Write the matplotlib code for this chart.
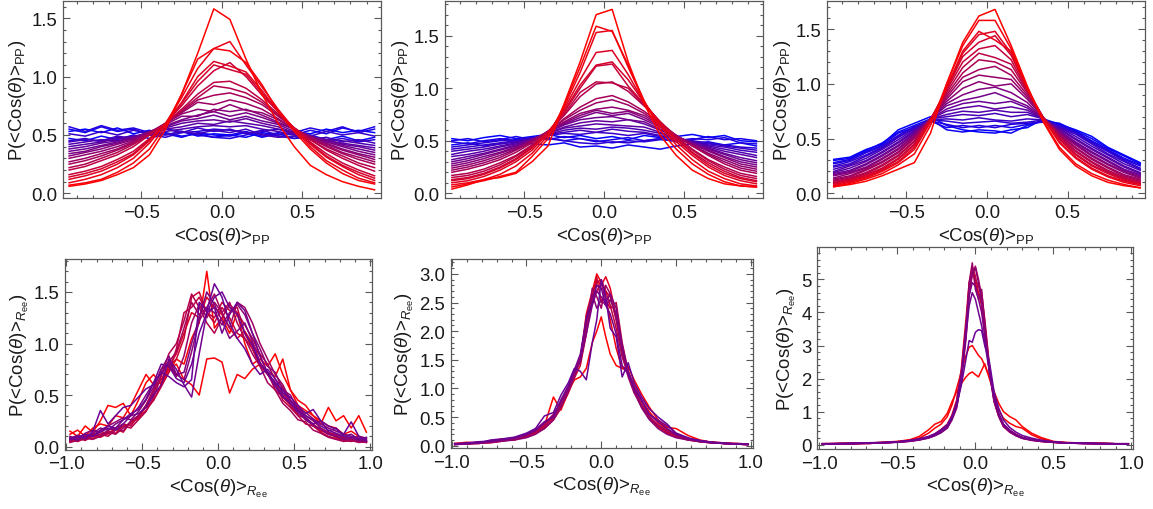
import matplotlib
matplotlib.use('Agg')
import matplotlib.pyplot as plt
from matplotlib.ticker import MultipleLocator

plt.rcParams['font.family'] = ['Liberation Sans', 'DejaVu Sans']
plt.rcParams['mathtext.fontset'] = 'custom'
plt.rcParams['mathtext.rm'] = 'Liberation Sans'
plt.rcParams['mathtext.it'] = 'Liberation Sans:italic'
plt.rcParams['axes.unicode_minus'] = True

# ---- top row: P(<Cos(theta)>_PP), 20 bins, ordered blue (flat) -> red (peaked)
x_top = [-0.95, -0.85, -0.75, -0.65, -0.55, -0.45, -0.35, -0.25, -0.15, -0.05,
         0.05, 0.15, 0.25, 0.35, 0.45, 0.55, 0.65, 0.75, 0.85, 0.95]

tl_curves = [
  [0.53, 0.55, 0.52, 0.56, 0.51, 0.54, 0.50, 0.53, 0.49, 0.51, 0.50, 0.48, 0.52, 0.50, 0.53, 0.51, 0.55, 0.52, 0.54, 0.52],
  [0.47, 0.45, 0.49, 0.46, 0.50, 0.47, 0.51, 0.48, 0.52, 0.50, 0.49, 0.52, 0.48, 0.51, 0.47, 0.50, 0.46, 0.49, 0.45, 0.48],
  [0.55, 0.52, 0.57, 0.53, 0.55, 0.50, 0.52, 0.49, 0.51, 0.48, 0.50, 0.53, 0.49, 0.52, 0.50, 0.54, 0.51, 0.56, 0.53, 0.57],
  [0.57, 0.53, 0.58, 0.54, 0.56, 0.52, 0.55, 0.53, 0.50, 0.48, 0.47, 0.50, 0.53, 0.55, 0.52, 0.56, 0.53, 0.57, 0.52, 0.55],
  [0.45, 0.47, 0.44, 0.48, 0.46, 0.50, 0.48, 0.52, 0.53, 0.55, 0.54, 0.52, 0.51, 0.49, 0.47, 0.48, 0.45, 0.47, 0.44, 0.46],
  [0.51, 0.49, 0.53, 0.50, 0.54, 0.51, 0.55, 0.52, 0.56, 0.53, 0.55, 0.51, 0.54, 0.50, 0.52, 0.49, 0.53, 0.50, 0.52, 0.49],
  [0.44, 0.46, 0.45, 0.49, 0.47, 0.51, 0.50, 0.53, 0.51, 0.54, 0.52, 0.55, 0.50, 0.48, 0.49, 0.46, 0.48, 0.44, 0.46, 0.43],
  [0.42, 0.44, 0.46, 0.45, 0.48, 0.50, 0.53, 0.55, 0.57, 0.58, 0.57, 0.58, 0.55, 0.53, 0.50, 0.48, 0.46, 0.45, 0.43, 0.41],
  [0.40, 0.42, 0.44, 0.47, 0.49, 0.51, 0.55, 0.57, 0.60, 0.59, 0.62, 0.60, 0.58, 0.55, 0.51, 0.49, 0.45, 0.43, 0.41, 0.39],
  [0.38, 0.40, 0.43, 0.45, 0.48, 0.52, 0.56, 0.60, 0.62, 0.63, 0.61, 0.64, 0.60, 0.57, 0.52, 0.49, 0.46, 0.42, 0.40, 0.37],
  [0.36, 0.38, 0.41, 0.44, 0.48, 0.53, 0.57, 0.62, 0.64, 0.67, 0.63, 0.66, 0.62, 0.59, 0.53, 0.48, 0.45, 0.41, 0.38, 0.35],
  [0.34, 0.36, 0.40, 0.43, 0.47, 0.53, 0.58, 0.63, 0.67, 0.70, 0.66, 0.69, 0.65, 0.60, 0.55, 0.49, 0.44, 0.40, 0.36, 0.33],
  [0.32, 0.35, 0.38, 0.42, 0.46, 0.52, 0.59, 0.66, 0.66, 0.72, 0.70, 0.72, 0.67, 0.61, 0.55, 0.49, 0.43, 0.38, 0.34, 0.31],
  [0.30, 0.33, 0.36, 0.40, 0.45, 0.52, 0.60, 0.68, 0.72, 0.70, 0.76, 0.71, 0.69, 0.63, 0.55, 0.48, 0.42, 0.37, 0.33, 0.29],
  [0.27, 0.30, 0.34, 0.38, 0.44, 0.52, 0.60, 0.69, 0.78, 0.76, 0.80, 0.77, 0.72, 0.64, 0.55, 0.47, 0.41, 0.35, 0.31, 0.27],
  [0.25, 0.28, 0.32, 0.37, 0.43, 0.51, 0.60, 0.70, 0.80, 0.84, 0.86, 0.82, 0.76, 0.66, 0.56, 0.47, 0.40, 0.34, 0.29, 0.25],
  [0.22, 0.25, 0.30, 0.35, 0.42, 0.50, 0.60, 0.71, 0.82, 0.92, 0.90, 0.86, 0.78, 0.67, 0.56, 0.46, 0.38, 0.32, 0.26, 0.22],
  [0.20, 0.23, 0.28, 0.33, 0.40, 0.50, 0.60, 0.72, 0.85, 0.95, 0.96, 0.90, 0.80, 0.68, 0.56, 0.46, 0.37, 0.30, 0.24, 0.19],
  [0.16, 0.19, 0.23, 0.29, 0.36, 0.47, 0.60, 0.75, 0.92, 1.05, 1.12, 1.00, 0.84, 0.70, 0.56, 0.44, 0.34, 0.26, 0.20, 0.15],
  [0.14, 0.17, 0.21, 0.27, 0.34, 0.46, 0.60, 0.77, 0.96, 1.10, 1.06, 1.02, 0.86, 0.70, 0.55, 0.43, 0.32, 0.24, 0.18, 0.13],
  [0.12, 0.15, 0.19, 0.25, 0.33, 0.45, 0.60, 0.78, 1.00, 1.13, 1.09, 1.04, 0.88, 0.70, 0.55, 0.42, 0.31, 0.23, 0.16, 0.11],
  [0.09, 0.12, 0.16, 0.22, 0.30, 0.43, 0.60, 0.82, 1.07, 1.24, 1.30, 1.10, 0.91, 0.72, 0.55, 0.40, 0.28, 0.20, 0.13, 0.09],
  [0.07, 0.09, 0.12, 0.18, 0.26, 0.38, 0.58, 0.85, 1.15, 1.24, 1.22, 1.12, 0.93, 0.70, 0.53, 0.38, 0.26, 0.17, 0.11, 0.08],
  [0.06, 0.08, 0.11, 0.16, 0.22, 0.33, 0.55, 0.85, 1.20, 1.58, 1.49, 1.15, 0.85, 0.60, 0.40, 0.24, 0.16, 0.10, 0.06, 0.03],
]

tm_curves = [
  [0.52, 0.50, 0.53, 0.55, 0.52, 0.54, 0.56, 0.53, 0.55, 0.52, 0.54, 0.51, 0.55, 0.53, 0.54, 0.56, 0.53, 0.55, 0.50, 0.49],
  [0.46, 0.48, 0.45, 0.47, 0.49, 0.47, 0.46, 0.48, 0.44, 0.45, 0.43, 0.46, 0.44, 0.42, 0.45, 0.47, 0.49, 0.46, 0.48, 0.45],
  [0.50, 0.52, 0.49, 0.51, 0.54, 0.51, 0.53, 0.50, 0.52, 0.49, 0.51, 0.53, 0.50, 0.52, 0.49, 0.51, 0.54, 0.51, 0.52, 0.50],
  [0.49, 0.47, 0.50, 0.52, 0.50, 0.53, 0.51, 0.54, 0.52, 0.50, 0.48, 0.50, 0.49, 0.51, 0.50, 0.52, 0.51, 0.53, 0.48, 0.47],
  [0.44, 0.46, 0.48, 0.50, 0.51, 0.53, 0.52, 0.50, 0.48, 0.47, 0.49, 0.48, 0.50, 0.52, 0.51, 0.49, 0.47, 0.46, 0.44, 0.43],
  [0.42, 0.44, 0.46, 0.48, 0.50, 0.52, 0.55, 0.57, 0.56, 0.58, 0.57, 0.55, 0.57, 0.54, 0.52, 0.50, 0.48, 0.45, 0.43, 0.41],
  [0.40, 0.42, 0.44, 0.47, 0.49, 0.52, 0.56, 0.58, 0.60, 0.58, 0.61, 0.59, 0.58, 0.55, 0.52, 0.49, 0.46, 0.44, 0.41, 0.39],
  [0.37, 0.40, 0.42, 0.45, 0.48, 0.52, 0.56, 0.60, 0.62, 0.61, 0.63, 0.62, 0.60, 0.57, 0.52, 0.49, 0.45, 0.42, 0.39, 0.36],
  [0.35, 0.37, 0.40, 0.44, 0.47, 0.52, 0.57, 0.62, 0.64, 0.66, 0.65, 0.64, 0.63, 0.58, 0.53, 0.49, 0.44, 0.40, 0.37, 0.34],
  [0.32, 0.35, 0.38, 0.42, 0.46, 0.51, 0.57, 0.63, 0.67, 0.69, 0.68, 0.70, 0.66, 0.60, 0.54, 0.48, 0.43, 0.38, 0.34, 0.31],
  [0.30, 0.33, 0.37, 0.41, 0.45, 0.51, 0.58, 0.65, 0.70, 0.72, 0.73, 0.70, 0.68, 0.61, 0.54, 0.48, 0.42, 0.37, 0.32, 0.29],
  [0.28, 0.31, 0.35, 0.39, 0.44, 0.51, 0.58, 0.66, 0.72, 0.77, 0.74, 0.76, 0.70, 0.63, 0.54, 0.47, 0.41, 0.35, 0.30, 0.27],
  [0.26, 0.29, 0.33, 0.38, 0.43, 0.50, 0.59, 0.67, 0.74, 0.79, 0.76, 0.78, 0.72, 0.64, 0.55, 0.47, 0.40, 0.34, 0.28, 0.25],
  [0.24, 0.27, 0.31, 0.36, 0.42, 0.50, 0.59, 0.68, 0.76, 0.80, 0.82, 0.79, 0.74, 0.65, 0.55, 0.46, 0.38, 0.32, 0.26, 0.23],
  [0.22, 0.25, 0.29, 0.34, 0.41, 0.49, 0.59, 0.70, 0.79, 0.86, 0.89, 0.84, 0.76, 0.66, 0.55, 0.45, 0.37, 0.30, 0.24, 0.21],
  [0.20, 0.23, 0.27, 0.32, 0.39, 0.48, 0.59, 0.71, 0.82, 0.90, 0.93, 0.87, 0.78, 0.67, 0.55, 0.45, 0.36, 0.28, 0.22, 0.19],
  [0.17, 0.19, 0.23, 0.29, 0.36, 0.46, 0.59, 0.74, 0.92, 1.04, 1.06, 0.97, 0.83, 0.68, 0.54, 0.42, 0.32, 0.25, 0.19, 0.16],
  [0.15, 0.17, 0.21, 0.27, 0.35, 0.45, 0.58, 0.75, 0.96, 1.06, 1.05, 1.00, 0.84, 0.68, 0.53, 0.41, 0.31, 0.23, 0.17, 0.14],
  [0.13, 0.15, 0.19, 0.25, 0.33, 0.44, 0.58, 0.77, 1.00, 1.21, 1.23, 1.02, 0.85, 0.68, 0.52, 0.39, 0.29, 0.21, 0.15, 0.12],
  [0.12, 0.14, 0.18, 0.24, 0.32, 0.43, 0.58, 0.78, 1.03, 1.22, 1.25, 1.08, 0.86, 0.67, 0.51, 0.38, 0.27, 0.19, 0.14, 0.11],
  [0.10, 0.12, 0.16, 0.22, 0.30, 0.41, 0.57, 0.80, 1.08, 1.34, 1.36, 1.13, 0.86, 0.66, 0.49, 0.36, 0.25, 0.17, 0.12, 0.09],
  [0.08, 0.10, 0.13, 0.18, 0.26, 0.38, 0.55, 0.82, 1.15, 1.53, 1.55, 1.20, 0.87, 0.64, 0.46, 0.32, 0.21, 0.14, 0.09, 0.07],
  [0.06, 0.09, 0.12, 0.16, 0.20, 0.35, 0.52, 0.84, 1.20, 1.59, 1.54, 1.22, 0.88, 0.60, 0.42, 0.28, 0.18, 0.11, 0.07, 0.06],
  [0.04, 0.08, 0.13, 0.15, 0.19, 0.30, 0.45, 0.85, 1.25, 1.70, 1.75, 1.25, 0.85, 0.55, 0.36, 0.22, 0.14, 0.09, 0.07, 0.06],
]

tr_curves = [
  [0.31, 0.33, 0.40, 0.45, 0.58, 0.64, 0.70, 0.62, 0.58, 0.56, 0.55, 0.58, 0.60, 0.68, 0.63, 0.58, 0.52, 0.42, 0.35, 0.28],
  [0.30, 0.32, 0.39, 0.46, 0.56, 0.62, 0.68, 0.58, 0.56, 0.58, 0.57, 0.55, 0.62, 0.66, 0.64, 0.57, 0.50, 0.41, 0.34, 0.27],
  [0.28, 0.31, 0.38, 0.44, 0.55, 0.60, 0.66, 0.60, 0.62, 0.60, 0.62, 0.60, 0.63, 0.66, 0.62, 0.56, 0.48, 0.40, 0.32, 0.26],
  [0.27, 0.30, 0.37, 0.43, 0.53, 0.61, 0.66, 0.63, 0.60, 0.62, 0.60, 0.63, 0.64, 0.65, 0.62, 0.56, 0.47, 0.39, 0.31, 0.25],
  [0.25, 0.29, 0.35, 0.42, 0.52, 0.60, 0.67, 0.66, 0.64, 0.65, 0.66, 0.64, 0.65, 0.67, 0.61, 0.55, 0.46, 0.38, 0.30, 0.23],
  [0.24, 0.27, 0.34, 0.41, 0.51, 0.59, 0.67, 0.68, 0.67, 0.69, 0.67, 0.66, 0.68, 0.67, 0.60, 0.54, 0.45, 0.36, 0.29, 0.22],
  [0.22, 0.26, 0.32, 0.40, 0.49, 0.58, 0.68, 0.70, 0.72, 0.71, 0.73, 0.70, 0.72, 0.68, 0.60, 0.52, 0.43, 0.35, 0.27, 0.21],
  [0.20, 0.25, 0.30, 0.38, 0.47, 0.57, 0.68, 0.72, 0.75, 0.74, 0.76, 0.74, 0.74, 0.68, 0.59, 0.50, 0.41, 0.33, 0.25, 0.19],
  [0.19, 0.23, 0.29, 0.37, 0.46, 0.56, 0.68, 0.75, 0.78, 0.80, 0.77, 0.79, 0.76, 0.68, 0.58, 0.49, 0.40, 0.32, 0.24, 0.18],
  [0.18, 0.21, 0.27, 0.35, 0.44, 0.55, 0.68, 0.77, 0.82, 0.84, 0.82, 0.84, 0.78, 0.68, 0.57, 0.47, 0.38, 0.30, 0.22, 0.17],
  [0.17, 0.20, 0.26, 0.34, 0.43, 0.54, 0.68, 0.80, 0.85, 0.88, 0.92, 0.86, 0.80, 0.68, 0.56, 0.46, 0.37, 0.29, 0.21, 0.16],
  [0.16, 0.19, 0.24, 0.32, 0.41, 0.53, 0.68, 0.82, 0.90, 0.95, 0.97, 0.92, 0.83, 0.68, 0.55, 0.45, 0.35, 0.27, 0.20, 0.15],
  [0.14, 0.18, 0.23, 0.31, 0.40, 0.52, 0.68, 0.84, 0.96, 1.02, 0.98, 1.00, 0.86, 0.69, 0.55, 0.44, 0.34, 0.26, 0.19, 0.14],
  [0.13, 0.16, 0.22, 0.29, 0.38, 0.51, 0.68, 0.86, 1.02, 1.08, 1.06, 1.04, 0.88, 0.69, 0.54, 0.42, 0.32, 0.24, 0.17, 0.13],
  [0.12, 0.15, 0.21, 0.28, 0.37, 0.50, 0.68, 0.88, 1.06, 1.13, 1.16, 1.08, 0.90, 0.69, 0.53, 0.41, 0.31, 0.23, 0.16, 0.12],
  [0.11, 0.14, 0.19, 0.26, 0.35, 0.48, 0.68, 0.90, 1.10, 1.22, 1.20, 1.13, 0.92, 0.69, 0.52, 0.39, 0.29, 0.21, 0.15, 0.11],
  [0.10, 0.13, 0.18, 0.25, 0.34, 0.47, 0.68, 0.92, 1.15, 1.28, 1.24, 1.18, 0.93, 0.69, 0.51, 0.38, 0.28, 0.20, 0.14, 0.10],
  [0.09, 0.12, 0.17, 0.23, 0.32, 0.45, 0.68, 0.94, 1.20, 1.32, 1.35, 1.22, 0.94, 0.69, 0.50, 0.36, 0.26, 0.19, 0.13, 0.09],
  [0.09, 0.12, 0.16, 0.22, 0.31, 0.44, 0.67, 0.95, 1.25, 1.38, 1.44, 1.26, 0.95, 0.69, 0.49, 0.35, 0.25, 0.18, 0.12, 0.09],
  [0.08, 0.11, 0.15, 0.21, 0.29, 0.42, 0.66, 0.96, 1.28, 1.45, 1.48, 1.28, 0.96, 0.68, 0.47, 0.33, 0.23, 0.16, 0.11, 0.08],
  [0.07, 0.10, 0.14, 0.20, 0.28, 0.40, 0.65, 0.97, 1.30, 1.48, 1.40, 1.30, 0.96, 0.68, 0.46, 0.32, 0.22, 0.15, 0.10, 0.07],
  [0.06, 0.09, 0.13, 0.18, 0.26, 0.36, 0.62, 1.00, 1.35, 1.58, 1.58, 1.32, 0.97, 0.66, 0.42, 0.27, 0.18, 0.12, 0.08, 0.05],
  [0.06, 0.08, 0.11, 0.16, 0.22, 0.28, 0.55, 1.00, 1.38, 1.62, 1.68, 1.35, 0.98, 0.65, 0.40, 0.25, 0.16, 0.10, 0.07, 0.05],
]

# ---- bottom row: P(<Cos(theta)>_Ree), purple -> red
x_bl = [-0.975, -0.925, -0.875, -0.825, -0.775, -0.725, -0.675, -0.625, -0.575, -0.525,
        -0.475, -0.425, -0.375, -0.325, -0.275, -0.225, -0.175, -0.125, -0.075, -0.025,
        0.025, 0.075, 0.125, 0.175, 0.225, 0.275, 0.325, 0.375, 0.425, 0.475,
        0.525, 0.575, 0.625, 0.675, 0.725, 0.775, 0.825, 0.875, 0.925, 0.975]

bl_curves = [
  [0.15, 0.10, 0.20, 0.14, 0.25, 0.40, 0.38, 0.42, 0.30, 0.45, 0.62, 0.70, 0.60, 0.72, 0.85, 0.80, 1.05, 1.20, 1.70, 1.15,
   1.25, 1.10, 1.30, 1.00, 0.80, 0.85, 0.78, 0.90, 0.70, 0.55, 0.40, 0.35, 0.30, 0.22, 0.38, 0.25, 0.30, 0.18, 0.30, 0.14],
  [0.12, 0.16, 0.10, 0.18, 0.22, 0.20, 0.30, 0.28, 0.40, 0.55, 0.70, 0.60, 0.62, 0.75, 0.80, 0.65, 0.60, 0.50, 0.85, 0.86,
   0.82, 0.52, 0.70, 0.66, 0.75, 0.80, 0.72, 0.68, 0.85, 0.55, 0.45, 0.40, 0.30, 0.25, 0.20, 0.18, 0.12, 0.15, 0.10, 0.08],
  [0.06, 0.05, 0.08, 0.11, 0.09, 0.13, 0.17, 0.14, 0.24, 0.27, 0.40, 0.55, 0.65, 0.78, 0.90, 1.10, 1.30, 1.25, 1.45, 1.35,
   1.28, 1.15, 1.05, 1.12, 1.00, 0.88, 0.70, 0.62, 0.52, 0.44, 0.38, 0.26, 0.22, 0.15, 0.14, 0.09, 0.07, 0.09, 0.06, 0.05],
  [0.08, 0.05, 0.10, 0.08, 0.12, 0.15, 0.13, 0.20, 0.22, 0.28, 0.35, 0.45, 0.60, 0.78, 0.85, 1.05, 1.45, 1.50, 1.30, 1.20,
   1.35, 1.25, 1.10, 1.05, 0.95, 0.80, 0.72, 0.55, 0.48, 0.40, 0.32, 0.28, 0.20, 0.16, 0.12, 0.10, 0.08, 0.07, 0.05, 0.06],
  [0.05, 0.07, 0.09, 0.12, 0.15, 0.12, 0.18, 0.22, 0.20, 0.30, 0.38, 0.45, 0.58, 0.72, 0.95, 1.30, 1.35, 1.45, 1.30, 1.25,
   1.40, 1.32, 1.35, 1.10, 0.95, 0.78, 0.70, 0.62, 0.45, 0.38, 0.30, 0.22, 0.20, 0.14, 0.10, 0.08, 0.06, 0.05, 0.07, 0.04],
  [0.05, 0.08, 0.06, 0.10, 0.12, 0.10, 0.16, 0.20, 0.18, 0.26, 0.34, 0.48, 0.68, 0.90, 1.00, 1.22, 1.48, 1.35, 1.20, 1.10,
   1.25, 1.38, 1.30, 1.18, 1.05, 0.90, 0.80, 0.65, 0.58, 0.40, 0.30, 0.28, 0.20, 0.17, 0.13, 0.11, 0.08, 0.06, 0.05, 0.04],
  [0.04, 0.06, 0.08, 0.07, 0.10, 0.14, 0.12, 0.18, 0.24, 0.30, 0.40, 0.55, 0.75, 0.82, 0.92, 1.15, 1.40, 1.28, 1.35, 1.48,
   1.30, 1.40, 1.20, 1.05, 0.90, 0.78, 0.62, 0.55, 0.42, 0.35, 0.26, 0.24, 0.16, 0.13, 0.09, 0.07, 0.05, 0.06, 0.04, 0.05],
  [0.06, 0.09, 0.07, 0.12, 0.10, 0.16, 0.18, 0.15, 0.25, 0.30, 0.40, 0.52, 0.70, 0.80, 0.68, 0.88, 1.20, 1.38, 1.25, 1.40,
   1.30, 1.15, 1.40, 1.35, 1.20, 1.00, 0.85, 0.70, 0.60, 0.45, 0.38, 0.30, 0.25, 0.18, 0.14, 0.12, 0.09, 0.08, 0.10, 0.05],
  [0.10, 0.07, 0.13, 0.16, 0.14, 0.20, 0.24, 0.28, 0.26, 0.34, 0.45, 0.58, 0.75, 0.88, 0.70, 0.65, 0.92, 1.22, 1.35, 1.30,
   1.18, 1.30, 1.38, 1.28, 1.10, 0.95, 0.78, 0.72, 0.55, 0.50, 0.36, 0.33, 0.27, 0.22, 0.18, 0.15, 0.12, 0.10, 0.08, 0.07],
  [0.08, 0.11, 0.09, 0.13, 0.18, 0.16, 0.22, 0.26, 0.30, 0.38, 0.50, 0.62, 0.72, 0.82, 0.70, 0.72, 1.00, 1.25, 1.50, 1.38,
   1.22, 1.05, 1.12, 1.20, 1.02, 0.82, 0.70, 0.58, 0.48, 0.42, 0.33, 0.26, 0.21, 0.17, 0.12, 0.10, 0.07, 0.08, 0.06, 0.05],
  [0.09, 0.06, 0.12, 0.10, 0.14, 0.18, 0.16, 0.22, 0.30, 0.32, 0.38, 0.50, 0.60, 0.85, 0.75, 0.60, 0.48, 0.90, 1.30, 1.35,
   1.10, 1.28, 1.40, 1.32, 1.10, 0.88, 0.72, 0.60, 0.50, 0.42, 0.35, 0.28, 0.22, 0.25, 0.15, 0.18, 0.10, 0.12, 0.07, 0.09],
  [0.07, 0.09, 0.12, 0.10, 0.16, 0.20, 0.18, 0.26, 0.32, 0.36, 0.46, 0.62, 0.80, 0.78, 0.66, 0.62, 0.80, 1.10, 1.30, 1.45,
   1.50, 1.35, 1.28, 1.10, 0.98, 0.80, 0.72, 0.62, 0.55, 0.45, 0.35, 0.30, 0.26, 0.20, 0.16, 0.13, 0.10, 0.09, 0.08, 0.06],
  [0.07, 0.10, 0.08, 0.15, 0.35, 0.22, 0.30, 0.38, 0.40, 0.48, 0.56, 0.60, 0.72, 0.68, 0.62, 0.58, 0.65, 1.40, 1.32, 1.58,
   1.45, 1.20, 1.05, 0.95, 0.80, 0.70, 0.75, 0.66, 0.52, 0.48, 0.40, 0.32, 0.36, 0.25, 0.20, 0.17, 0.12, 0.24, 0.10, 0.08],
]
bl_tone = [1.0, 0.97, 0.85, 0.78, 0.75, 0.7, 0.65, 0.62, 0.55, 0.5, 0.45, 0.43, 0.42]

x_bm = [-0.98, -0.90, -0.82, -0.74, -0.66, -0.58, -0.50, -0.44, -0.38, -0.32, -0.27, -0.22, -0.18, -0.14, -0.10, -0.06, -0.03, 0.00,
        0.03, 0.06, 0.10, 0.14, 0.18, 0.22, 0.27, 0.32, 0.38, 0.44, 0.50, 0.58, 0.66, 0.74, 0.82, 0.90, 0.98]

bm_curves = [
  [0.04, 0.06, 0.05, 0.08, 0.12, 0.10, 0.18, 0.25, 0.35, 0.85, 0.62, 0.95, 1.15, 1.20, 1.35, 1.80, 2.00, 2.25,
   1.90, 1.60, 1.40, 1.35, 1.38, 1.15, 0.90, 0.68, 0.45, 0.32, 0.30, 0.18, 0.10, 0.06, 0.05, 0.04, 0.03],
  [0.03, 0.05, 0.04, 0.07, 0.10, 0.13, 0.20, 0.22, 0.40, 0.48, 0.72, 1.00, 1.25, 1.50, 2.30, 2.70, 3.00, 2.85,
   2.60, 2.20, 1.70, 1.35, 1.30, 1.05, 0.80, 0.60, 0.40, 0.28, 0.20, 0.12, 0.08, 0.06, 0.04, 0.03, 0.03],
  [0.03, 0.03, 0.04, 0.06, 0.09, 0.12, 0.16, 0.22, 0.34, 0.48, 0.70, 1.00, 1.22, 1.52, 2.05, 2.55, 2.90, 2.80,
   2.95, 2.75, 2.25, 1.65, 1.28, 0.98, 0.72, 0.50, 0.34, 0.23, 0.16, 0.11, 0.07, 0.05, 0.04, 0.03, 0.02],
  [0.02, 0.04, 0.06, 0.05, 0.08, 0.12, 0.15, 0.22, 0.30, 0.45, 0.65, 0.92, 1.18, 1.40, 1.95, 2.60, 2.95, 2.50,
   2.70, 2.60, 2.20, 1.70, 1.25, 0.95, 0.70, 0.48, 0.33, 0.22, 0.16, 0.10, 0.07, 0.05, 0.04, 0.03, 0.02],
  [0.03, 0.04, 0.05, 0.06, 0.09, 0.11, 0.17, 0.24, 0.36, 0.50, 0.72, 0.98, 1.28, 1.55, 2.15, 2.60, 2.85, 2.90,
   2.70, 2.45, 2.05, 1.55, 1.25, 0.96, 0.72, 0.52, 0.36, 0.25, 0.17, 0.11, 0.08, 0.06, 0.04, 0.03, 0.02],
  [0.03, 0.03, 0.05, 0.07, 0.09, 0.11, 0.16, 0.25, 0.32, 0.52, 0.70, 0.98, 1.25, 1.50, 2.10, 2.50, 2.70, 2.85,
   2.55, 2.40, 2.50, 1.80, 1.30, 0.98, 0.70, 0.50, 0.35, 0.24, 0.18, 0.11, 0.08, 0.06, 0.05, 0.03, 0.03],
  [0.04, 0.03, 0.06, 0.06, 0.10, 0.12, 0.18, 0.26, 0.38, 0.55, 0.75, 1.00, 1.30, 1.45, 2.00, 2.75, 2.60, 2.40,
   2.80, 2.65, 2.20, 1.60, 1.20, 0.92, 0.68, 0.50, 0.36, 0.26, 0.18, 0.12, 0.09, 0.06, 0.04, 0.04, 0.03],
  [0.02, 0.03, 0.04, 0.06, 0.08, 0.10, 0.14, 0.20, 0.30, 0.45, 0.68, 0.95, 1.20, 1.50, 2.25, 2.65, 2.40, 2.55,
   2.45, 2.55, 2.30, 1.75, 1.30, 0.95, 0.66, 0.46, 0.30, 0.20, 0.14, 0.10, 0.07, 0.05, 0.04, 0.03, 0.02],
  [0.02, 0.04, 0.06, 0.07, 0.10, 0.13, 0.19, 0.26, 0.40, 0.52, 0.78, 1.02, 1.30, 1.48, 1.95, 2.45, 2.70, 2.60,
   2.50, 2.65, 2.40, 1.70, 1.30, 1.02, 0.80, 0.55, 0.45, 0.35, 0.22, 0.13, 0.09, 0.06, 0.04, 0.03, 0.03],
  [0.03, 0.05, 0.07, 0.08, 0.11, 0.14, 0.20, 0.28, 0.42, 0.50, 0.80, 1.05, 1.32, 1.60, 2.20, 2.50, 2.80, 2.75,
   2.45, 2.30, 1.95, 1.40, 1.25, 1.00, 0.78, 0.55, 0.42, 0.30, 0.20, 0.13, 0.09, 0.06, 0.05, 0.03, 0.02],
  [0.03, 0.04, 0.05, 0.10, 0.12, 0.15, 0.22, 0.30, 0.52, 0.58, 0.88, 1.10, 1.35, 1.30, 1.15, 1.80, 2.20, 2.90,
   2.60, 2.05, 1.90, 1.20, 1.45, 1.10, 0.85, 0.65, 0.50, 0.38, 0.22, 0.14, 0.08, 0.05, 0.04, 0.03, 0.03],
]
bm_tone = [1.0, 0.95, 0.88, 0.82, 0.75, 0.72, 0.62, 0.55, 0.5, 0.45, 0.42]

x_br = [-0.98, -0.88, -0.78, -0.68, -0.58, -0.50, -0.42, -0.36, -0.30, -0.26, -0.22, -0.18, -0.15, -0.12, -0.09, -0.06, -0.04, -0.02,
        0.00, 0.02, 0.04, 0.06, 0.09, 0.12, 0.15, 0.18, 0.22, 0.26, 0.30, 0.36, 0.42, 0.50, 0.58, 0.68, 0.78, 0.88, 0.98]

br_curves = [
  [0.03, 0.04, 0.03, 0.05, 0.08, 0.10, 0.15, 0.25, 0.45, 0.62, 0.70, 0.95, 1.30, 1.60, 1.85, 2.05, 2.15, 2.20,
   2.12, 2.05, 2.25, 2.45, 2.00, 1.60, 1.25, 1.00, 0.85, 0.75, 0.55, 0.35, 0.22, 0.10, 0.07, 0.05, 0.04, 0.03, 0.03],
  [0.03, 0.03, 0.05, 0.04, 0.07, 0.09, 0.14, 0.20, 0.35, 0.50, 0.62, 0.85, 1.20, 1.70, 2.20, 2.70, 2.95, 3.00,
   2.85, 2.70, 2.60, 2.40, 2.05, 1.50, 1.05, 0.80, 0.65, 0.55, 0.50, 0.30, 0.18, 0.09, 0.06, 0.05, 0.04, 0.03, 0.02],
  [0.02, 0.03, 0.03, 0.04, 0.06, 0.08, 0.11, 0.16, 0.24, 0.32, 0.46, 0.62, 0.90, 1.35, 2.30, 3.80, 4.90, 5.30,
   4.90, 4.50, 4.30, 3.50, 2.35, 1.40, 0.92, 0.62, 0.44, 0.32, 0.22, 0.15, 0.11, 0.08, 0.05, 0.04, 0.04, 0.03, 0.02],
  [0.02, 0.03, 0.04, 0.05, 0.06, 0.08, 0.12, 0.16, 0.24, 0.32, 0.45, 0.60, 0.85, 1.30, 2.20, 3.60, 4.80, 5.40,
   5.10, 4.60, 4.20, 3.40, 2.20, 1.30, 0.85, 0.55, 0.38, 0.28, 0.20, 0.14, 0.11, 0.07, 0.05, 0.04, 0.04, 0.03, 0.02],
  [0.03, 0.03, 0.04, 0.04, 0.06, 0.09, 0.11, 0.15, 0.21, 0.28, 0.38, 0.52, 0.78, 1.15, 1.90, 3.20, 4.50, 5.30,
   5.00, 4.80, 4.60, 3.80, 2.40, 1.35, 0.88, 0.58, 0.40, 0.28, 0.20, 0.15, 0.10, 0.08, 0.06, 0.04, 0.03, 0.03, 0.02],
  [0.02, 0.03, 0.04, 0.04, 0.06, 0.08, 0.11, 0.15, 0.22, 0.29, 0.40, 0.55, 0.80, 1.22, 2.05, 3.40, 4.60, 5.10,
   5.40, 5.00, 4.50, 3.70, 2.30, 1.35, 0.88, 0.57, 0.40, 0.28, 0.20, 0.14, 0.10, 0.07, 0.05, 0.04, 0.03, 0.03, 0.02],
  [0.02, 0.04, 0.03, 0.05, 0.07, 0.08, 0.12, 0.17, 0.22, 0.30, 0.40, 0.55, 0.82, 1.25, 2.10, 3.40, 4.90, 5.50,
   4.70, 4.40, 4.70, 3.60, 2.30, 1.40, 0.90, 0.60, 0.42, 0.30, 0.22, 0.16, 0.12, 0.08, 0.05, 0.05, 0.04, 0.03, 0.03],
  [0.03, 0.03, 0.04, 0.04, 0.06, 0.07, 0.10, 0.14, 0.20, 0.27, 0.36, 0.50, 0.75, 1.10, 1.95, 3.50, 4.70, 5.20,
   5.35, 4.90, 4.30, 3.50, 2.20, 1.30, 0.85, 0.55, 0.38, 0.27, 0.19, 0.13, 0.10, 0.07, 0.05, 0.04, 0.03, 0.03, 0.02],
  [0.03, 0.03, 0.04, 0.05, 0.06, 0.08, 0.12, 0.16, 0.23, 0.30, 0.42, 0.58, 0.84, 1.28, 2.15, 3.55, 4.50, 4.90,
   4.80, 4.40, 4.00, 3.30, 2.25, 1.38, 0.90, 0.60, 0.42, 0.30, 0.21, 0.15, 0.11, 0.08, 0.05, 0.04, 0.03, 0.03, 0.02],
  [0.02, 0.03, 0.03, 0.05, 0.06, 0.08, 0.11, 0.15, 0.21, 0.28, 0.38, 0.52, 0.78, 1.18, 2.00, 3.30, 4.20, 4.60,
   4.40, 4.00, 3.60, 3.10, 2.20, 1.40, 0.95, 0.62, 0.44, 0.30, 0.22, 0.15, 0.11, 0.08, 0.05, 0.04, 0.03, 0.03, 0.02],
  [0.03, 0.03, 0.04, 0.06, 0.07, 0.09, 0.13, 0.18, 0.25, 0.33, 0.45, 0.60, 0.85, 1.20, 1.80, 2.60, 3.15, 3.10,
   3.40, 3.48, 3.45, 3.00, 2.50, 1.60, 1.10, 0.75, 0.52, 0.38, 0.28, 0.20, 0.14, 0.09, 0.06, 0.05, 0.04, 0.03, 0.03],
]
br_tone = [1.0, 0.97, 0.85, 0.8, 0.7, 0.65, 0.6, 0.55, 0.5, 0.45, 0.42]

W, H = 1153, 510
label_pp = r'<Cos($\theta$)>$_{\mathrm{PP}}$'
label_ree = r'<Cos($\theta$)>$_{R_{\mathrm{ee}}}$'


def blend(t):
  '''Blue -> red blend, like Blend[{Blue, Red}, t]'''
  return (t, 0.0, 1.0 - t)


def addPanel(fig, box, xlim, ylim, ymajor, yminor, xlabel):
  '''Adds an axes at a pixel box (left, top, right, bottom) with a Mathematica-like frame'''
  l, t, r, b = box
  ax = fig.add_axes([l / W, 1 - b / H, (r - l) / W, (b - t) / H])
  ax.set_xlim(*xlim)
  ax.set_ylim(*ylim)
  ax.xaxis.set_major_locator(MultipleLocator(0.5))
  ax.xaxis.set_minor_locator(MultipleLocator(0.1))
  ax.yaxis.set_major_locator(MultipleLocator(ymajor))
  ax.yaxis.set_minor_locator(MultipleLocator(yminor))
  ax.tick_params(which='both', direction='in', top=True, right=True, color='0.35', width=0.8,
                 labelsize=13.4, labelcolor='#1a1a1a', pad=4)
  ax.tick_params(which='major', length=5)
  ax.tick_params(which='minor', length=2.5)
  for s in ax.spines.values():
    s.set_color('0.35')
    s.set_linewidth(0.9)
  ax.set_xlabel(xlabel, fontsize=13.4, color='#1a1a1a', labelpad=3)
  ax.set_ylabel('P(' + xlabel + ')', fontsize=13.4, color='#1a1a1a', labelpad=2)
  return ax


fig = plt.figure(figsize=(W / 100, H / 100), dpi=100)

top = [
  (tl_curves, (62.7, 1.7, 381, 199), (-0.99, 0.99), (-0.04, 1.65)),
  (tm_curves, (445, 2, 763.3, 199), (-0.993, 0.993), (-0.045, 1.83)),
  (tr_curves, (827.3, 1.7, 1145, 199), (-0.99, 0.98), (-0.043, 1.76)),
]
for curves, box, xlim, ylim in top:
  ax = addPanel(fig, box, xlim, ylim, 0.5, 0.1, label_pp)
  n = len(curves)
  for i, ys in enumerate(curves):
    ax.plot(x_top, ys, color=blend(i / (n - 1)), lw=1.1)

bottom = [
  (x_bl, bl_curves, bl_tone, (65, 260, 371.7, 450.7), (-1.008, 1.01), (-0.03, 1.82), 0.5, 0.1),
  (x_bm, bm_curves, bm_tone, (450.7, 260, 752.7, 449.3), (-1.007, 1.013), (-0.045, 3.26), 0.5, 0.1),
  (x_br, br_curves, br_tone, (817.3, 248, 1133.3, 450), (-1.013, 1.012), (-0.13, 5.98), 1, 0.2),
]
for xs, curves, tone, box, xlim, ylim, ymaj, ymin in bottom:
  ax = addPanel(fig, box, xlim, ylim, ymaj, ymin, label_ree)
  for t, ys in zip(tone, curves):
    ax.plot(xs, ys, color=blend(t), lw=1.1)

fig.savefig('out.png', dpi=100)
